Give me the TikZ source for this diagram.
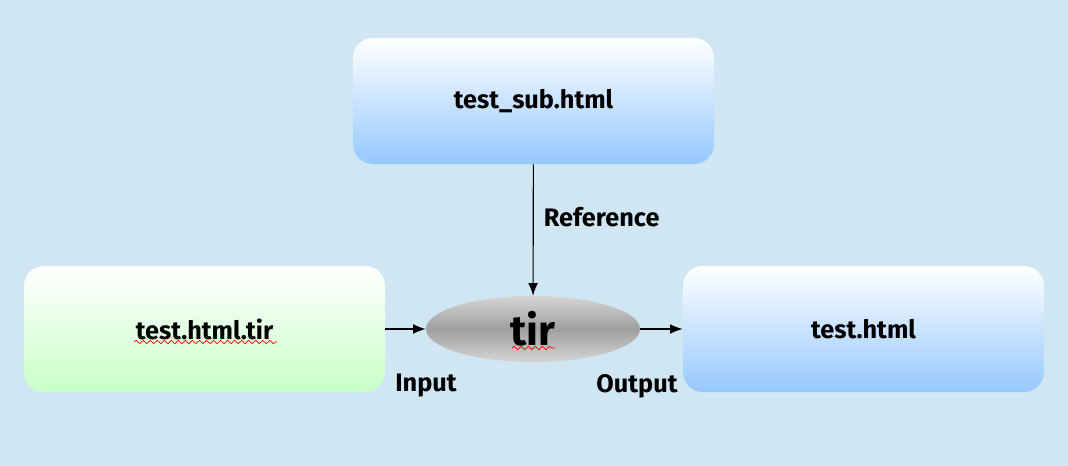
\documentclass[tikz,border=0pt]{standalone}
\usepackage{fontspec}
\setmainfont{Fira Sans}
\usetikzlibrary{shapes.geometric,arrows.meta,decorations.pathmorphing}
\definecolor{bgblue}{RGB}{208,230,243}
\definecolor{boxblue}{RGB}{150,200,255}
\definecolor{boxgreen}{RGB}{200,255,200}
\definecolor{tirlight}{RGB}{212,212,212}
\definecolor{tirdark}{RGB}{160,160,160}
\tikzset{
  filebox/.style={rounded corners=0.5cm, minimum width=9.025cm, minimum height=3.15cm,
    font=\fontsize{18}{21}\selectfont\bfseries},
  label/.style={font=\fontsize{18}{21}\selectfont\bfseries},
  flow/.style={-{Latex[length=9pt,width=7pt]}, line width=0.8pt},
  spell/.style={red, line width=0.5pt, decorate, decoration={snake, amplitude=1.2, segment length=5}}
}
\begin{document}
\begin{tikzpicture}[x=0.025cm,y=-0.025cm]
\fill [bgblue] (0,0) rectangle (1068,466);

% files and tool
\node [filebox, top color=white, bottom color=boxblue] (sub) at (533.5,101) {test\_sub.html};
\node [filebox, top color=white, bottom color=boxgreen] (src) at (204.5,329) {test.html.tir};
\node [filebox, top color=white, bottom color=boxblue] (out) at (863.5,329) {test.html};
\node [ellipse, minimum width=5.35cm, minimum height=1.65cm, inner sep=0pt,
  top color=tirlight, bottom color=tirlight, middle color=tirdark,
  font=\fontsize{30}{32}\selectfont\bfseries] (tir) at (533,329) {tir};

% connections
\draw [flow] (sub) -- (tir);
\draw [flow] (src) -- (tir);
\draw [flow] (tir) -- (out);
\node [label, anchor=west] (ref) at (539,217) {Reference};
\node [label] (in) at (426,386) {Input};
\node [label] (outlbl) at (637,386) {Output};

% spell check marks
\draw [spell] (134,342) -- (277,342);
\draw [spell] (512,348) -- (555,348);
\end{tikzpicture}
\end{document}
